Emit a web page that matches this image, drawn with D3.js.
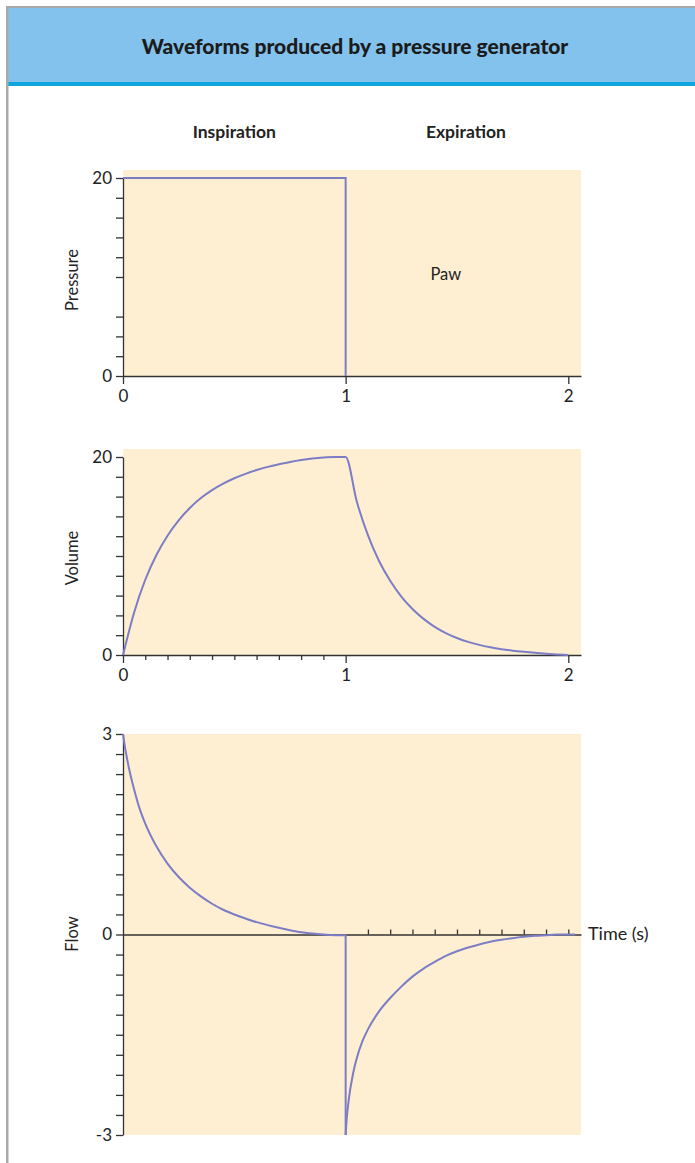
<!DOCTYPE html>
<html><head><meta charset="utf-8">
<script src="https://cdn.jsdelivr.net/npm/d3@7"></script>
<style>body{margin:0;background:#fff} svg{display:block}</style>
</head><body><svg id="c" width="695" height="1163"></svg>
<script>
// ---------------- data ----------------
const titleText = "Waveforms produced by a pressure generator";
const phaseLabels = ["Inspiration", "Expiration"];
const panelLabels = ["Pressure", "Volume", "Flow"];
const xTickLabels = ["0", "1", "2"];

const pressureTime = [0, 1, 1];
const pressureValues = [20, 20, 0];

const volumeTime = [0, 0.05, 0.1, 0.15, 0.2, 0.25, 0.3, 0.35, 0.4, 0.45, 0.5, 0.55, 0.6, 0.65, 0.7, 0.75, 0.8, 0.85, 0.9, 0.95, 1.0,
  1.05, 1.1, 1.15, 1.2, 1.25, 1.3, 1.35, 1.4, 1.45, 1.5, 1.55, 1.6, 1.65, 1.7, 1.75, 1.8, 1.85, 1.9, 1.95, 2.0];
const volumeValues = [0, 4.3, 7.6, 10.1, 12.05, 13.6, 14.85, 15.85, 16.65, 17.3, 17.85, 18.3, 18.68, 19.0, 19.26, 19.5, 19.7, 19.85, 19.95, 20, 20,
  15.5, 12.1, 9.5, 7.5, 5.9, 4.65, 3.65, 2.85, 2.22, 1.72, 1.33, 1.02, 0.78, 0.59, 0.44, 0.32, 0.22, 0.13, 0.06, 0];

const flowInspTime = [0, 0.01, 0.02, 0.03, 0.05, 0.075, 0.1, 0.15, 0.2, 0.25, 0.3, 0.35, 0.4, 0.45, 0.5, 0.55, 0.6, 0.65, 0.7, 0.75, 0.8, 0.85, 0.9, 0.95, 1.0];
const flowInspValues = [3.0, 2.78, 2.6, 2.44, 2.17, 1.88, 1.66, 1.32, 1.06, 0.86, 0.7, 0.57, 0.46, 0.37, 0.3, 0.24, 0.185, 0.14, 0.1, 0.065, 0.035, 0.015, 0, -0.01, -0.01];
const flowDropTime = [1, 1];
const flowDropValues = [0, -3];
const flowExpTime = [1.0, 1.005, 1.01, 1.02, 1.03, 1.04, 1.05, 1.075, 1.1, 1.15, 1.2, 1.25, 1.3, 1.35, 1.4, 1.45, 1.5, 1.55, 1.6, 1.65, 1.7, 1.75, 1.8, 1.85, 1.9, 1.95, 2.0, 2.03];
const flowExpValues = [-3.0, -2.75, -2.58, -2.33, -2.14, -1.98, -1.85, -1.6, -1.42, -1.15, -0.95, -0.78, -0.63, -0.51, -0.41, -0.32, -0.25, -0.195, -0.15, -0.11, -0.08, -0.055, -0.035, -0.02, -0.01, 0, 0, 0];

const pressureYTicks = [0, 2, 4, 6, 10, 12, 14, 16, 18, 20];
const pressureYLabels = ["0", "20"];
const volumeYTicks = [0, 2, 4, 6, 8, 10, 12, 14, 16, 18, 20];
const volumeYLabels = ["0", "20"];
const flowYTicks = d3.range(0, 21).map(i => +(-3 + i * 0.3).toFixed(2));
const flowYLabels = ["-3", "0", "3"];
const volumeMinorX = [0.1, 0.2, 0.3, 0.4, 0.5, 0.6, 0.7, 0.8, 0.9];
const flowMinorX = [1.1, 1.2, 1.3, 1.4, 1.5, 1.6, 1.7, 1.8, 1.9, 2.0];

// ---------------- layout ----------------
const svg = d3.select("#c");
const W = 695, H = 1163;
const LINE = "#7d7cc6", BG = "#feefd2", AX = "#333", TXT = "#222";
const FONT = "Lato, 'Open Sans', sans-serif";

// frame + banner
svg.append("rect").attr("x", 0).attr("y", 0).attr("width", W).attr("height", H).attr("fill", "#fff");
svg.append("rect").attr("x", 8).attr("y", 8).attr("width", W - 8).attr("height", 75).attr("fill", "#82c2ec");
svg.append("rect").attr("x", 8).attr("y", 82).attr("width", W - 8).attr("height", 4).attr("fill", "#0fa5de");
svg.append("rect").attr("x", 6).attr("y", 6).attr("width", W - 6).attr("height", 2).attr("fill", "#a9a9a9");
svg.append("rect").attr("x", 6).attr("y", 6).attr("width", 2.5).attr("height", H - 6).attr("fill", "#a9a9a9");

svg.append("text").attr("x", 355).attr("y", 54).attr("text-anchor", "middle")
  .attr("font-family", FONT).attr("font-weight", 900).attr("font-size", 21).attr("fill", "#1b1b1b")
  .text(titleText);

const x = d3.scaleLinear().domain([0, 2]).range([123, 568.3]);
const xEnd = 581;

svg.selectAll("text.phase").data(phaseLabels).join("text").attr("class", "phase")
  .attr("x", (d, i) => x([0.5, 1.54][i])).attr("y", 138).attr("text-anchor", "middle")
  .attr("font-family", FONT).attr("font-weight", 700).attr("font-size", 17.5).attr("fill", TXT)
  .text(d => d);

function panel(cfg) {
  const g = svg.append("g");
  const y = d3.scaleLinear().domain(cfg.yDomain).range(cfg.yRange);
  g.append("rect").attr("x", x(0)).attr("y", cfg.bgTop).attr("width", xEnd - x(0))
    .attr("height", y(cfg.yDomain[0]) - cfg.bgTop).attr("fill", BG);
  const ya = g.append("g").attr("transform", `translate(${x(0)},0)`)
    .call(d3.axisLeft(y).tickValues(cfg.yTicks).tickSize(7).tickSizeOuter(0)
      .tickFormat(d => cfg.yLabels.includes(String(d)) ? String(d) : ""));
  ya.select(".domain").attr("stroke", AX).attr("stroke-width", 1.3);
  ya.selectAll(".tick line").attr("stroke", AX).attr("stroke-width", 1.3);
  ya.selectAll(".tick text").attr("font-family", FONT).attr("font-size", 17).attr("fill", TXT).attr("x", -11);
  g.append("text").attr("transform", `translate(78,${cfg.titleY}) rotate(-90)`).attr("text-anchor", "middle")
    .attr("font-family", FONT).attr("font-size", 16.5).attr("fill", TXT).text(cfg.title);
  return {g, y};
}

function styleAxis(a) {
  a.select(".domain").attr("stroke", AX).attr("stroke-width", 1.3);
  a.selectAll(".tick line").attr("stroke", AX).attr("stroke-width", 1.3);
  a.selectAll(".tick text").attr("font-family", FONT).attr("font-size", 17).attr("fill", TXT).attr("y", 14);
}

const xs = d3.scaleLinear().domain([0, x.invert(xEnd)]).range([x(0), xEnd]);

// ---- Pressure ----
{
  const {g, y} = panel({yDomain: [0, 20], yRange: [376, 178], bgTop: 170, yTicks: pressureYTicks, yLabels: pressureYLabels, title: panelLabels[0], titleY: 280});
  const xa = g.append("g").attr("transform", `translate(0,${y(0)})`)
    .call(d3.axisBottom(xs).tickValues([0, 1, 2]).tickSize(8).tickSizeOuter(0).tickFormat((d, i) => xTickLabels[i]));
  styleAxis(xa);
  g.append("path").datum(pressureTime.map((t, i) => [t, pressureValues[i]]))
    .attr("d", d3.line().x(d => x(d[0])).y(d => y(d[1])))
    .attr("fill", "none").attr("stroke", LINE).attr("stroke-width", 2);
  g.append("text").attr("x", x(1.45)).attr("y", y(10.3) + 6).attr("text-anchor", "middle")
    .attr("font-family", FONT).attr("font-size", 16.5).attr("fill", TXT).text("Paw");
}

// ---- Volume ----
{
  const {g, y} = panel({yDomain: [0, 20], yRange: [655, 457], bgTop: 449, yTicks: volumeYTicks, yLabels: volumeYLabels, title: panelLabels[1], titleY: 558});
  const minor = g.append("g").attr("transform", `translate(0,${y(0)})`)
    .call(d3.axisBottom(xs).tickValues(volumeMinorX).tickSize(5).tickSizeOuter(0).tickFormat(""));
  minor.select(".domain").remove();
  minor.selectAll(".tick line").attr("stroke", AX).attr("stroke-width", 1.3);
  const xa = g.append("g").attr("transform", `translate(0,${y(0)})`)
    .call(d3.axisBottom(xs).tickValues([0, 1, 2]).tickSize(8).tickSizeOuter(0).tickFormat((d, i) => xTickLabels[i]));
  styleAxis(xa);
  g.append("path").datum(volumeTime.map((t, i) => [t, volumeValues[i]]))
    .attr("d", d3.line().x(d => x(d[0])).y(d => y(d[1])).curve(d3.curveMonotoneX))
    .attr("fill", "none").attr("stroke", LINE).attr("stroke-width", 2);
}

// ---- Flow ----
{
  const {g, y} = panel({yDomain: [-3, 3], yRange: [1135, 734], bgTop: 734, yTicks: flowYTicks, yLabels: flowYLabels, title: panelLabels[2], titleY: 934});
  const xa = g.append("g").attr("transform", `translate(0,${y(0)})`)
    .call(d3.axisTop(xs).tickValues(flowMinorX).tickSize(5).tickSizeOuter(0).tickFormat(""));
  xa.select(".domain").attr("stroke", AX).attr("stroke-width", 1.3);
  xa.selectAll(".tick line").attr("stroke", AX).attr("stroke-width", 1.3);
  const ln = d3.line().x(d => x(d[0])).y(d => y(d[1]));
  [[flowInspTime, flowInspValues, d3.curveMonotoneX], [flowDropTime, flowDropValues, d3.curveLinear], [flowExpTime, flowExpValues, d3.curveMonotoneX]]
    .forEach(([ts, vs, c]) => {
      g.append("path").datum(ts.map((t, i) => [t, vs[i]]))
        .attr("d", ln.curve(c))
        .attr("fill", "none").attr("stroke", LINE).attr("stroke-width", 2);
    });
  g.append("text").attr("x", 588).attr("y", y(0) + 5).attr("font-family", FONT).attr("font-size", 18)
    .attr("fill", TXT).text("Time (s)");
}
</script></body></html>
